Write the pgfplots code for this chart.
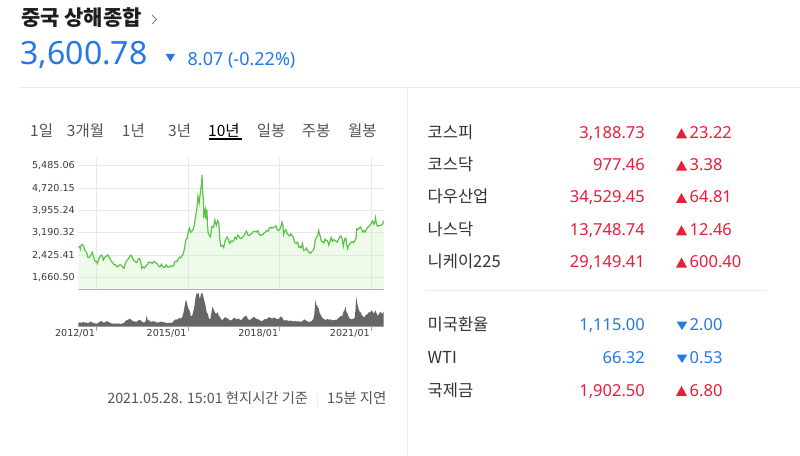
\documentclass[border=0pt]{standalone}
\usepackage{pgfplots}
\pgfplotsset{compat=1.18}
\usepackage{pgfplotstable}
\usepackage{fontspec}
\setmainfont{Noto Sans CJK KR}
\newfontfamily\nsans{Noto Sans}
\newfontfamily\dejavu{DejaVu Sans}
\newcommand{\fs}[1]{\fontsize{#1}{#1}\selectfont}
\definecolor{upred}{RGB}{232,30,58}
\definecolor{dnblue}{RGB}{36,121,229}
\definecolor{titlec}{RGB}{30,30,30}
\definecolor{lbl}{RGB}{51,51,51}
\definecolor{tabc}{RGB}{85,85,85}
\definecolor{sepc}{RGB}{236,236,236}
\definecolor{pline}{RGB}{90,196,70}
\definecolor{pfill}{RGB}{200,245,188}
\definecolor{volc}{RGB}{102,102,102}
\definecolor{gridc}{RGB}{232,232,232}
\definecolor{tickc}{RGB}{60,60,60}

\pgfplotstableread{
t v
2011.40 2709
2011.43 2728
2011.45 2705
2011.47 2642
2011.49 2762
2011.52 2795
2011.55 2780
2011.58 2701
2011.61 2608
2011.64 2568
2011.68 2500
2011.71 2359
2011.75 2345
2011.78 2388
2011.83 2468
2011.86 2528
2011.89 2400
2011.91 2333
2011.95 2224
2012.00 2199
2012.03 2150
2012.06 2292
2012.10 2357
2012.15 2439
2012.19 2390
2012.22 2263
2012.27 2359
2012.32 2396
2012.36 2440
2012.40 2373
2012.44 2306
2012.48 2225
2012.53 2170
2012.57 2103
2012.61 2110
2012.65 2047
2012.69 2028
2012.73 2086
2012.77 2100
2012.82 2069
2012.86 2015
2012.90 1980
2012.94 2150
2013.00 2269
2013.04 2300
2013.08 2385
2013.12 2432
2013.16 2366
2013.20 2270
2013.24 2237
2013.28 2190
2013.32 2178
2013.36 2300
2013.40 2320
2013.44 2211
2013.48 1980
2013.52 2030
2013.55 2000
2013.58 1994
2013.62 2085
2013.66 2098
2013.70 2190
2013.74 2175
2013.78 2190
2013.82 2141
2013.86 2200
2013.90 2220
2013.94 2160
2014.00 2116
2014.04 2040
2014.08 2033
2014.12 2120
2014.16 2056
2014.20 2000
2014.24 2033
2014.28 2100
2014.32 2026
2014.36 2020
2014.40 2039
2014.44 2070
2014.48 2048
2014.52 2070
2014.56 2200
2014.60 2220
2014.64 2217
2014.68 2310
2014.72 2364
2014.76 2340
2014.80 2420
2014.84 2480
2014.88 2683
2014.92 2950
2014.96 3000
2015.00 3235
2015.04 3350
2015.08 3210
2015.12 3250
2015.16 3310
2015.20 3450
2015.24 3748
2015.28 4000
2015.32 4442
2015.36 4220
2015.40 4600
2015.44 4900
2015.45 5166
2015.48 4500
2015.50 4277
2015.51 3700
2015.53 3900
2015.56 4000
2015.58 3664
2015.61 3990
2015.63 3500
2015.65 3206
2015.69 3100
2015.73 3053
2015.77 3400
2015.83 3383
2015.87 3630
2015.92 3445
2015.96 3600
2016.00 3539
2016.03 3000
2016.07 2738
2016.12 2760
2016.16 2688
2016.20 2900
2016.24 3004
2016.28 3050
2016.32 2938
2016.36 2830
2016.40 2917
2016.45 2890
2016.49 2930
2016.53 3050
2016.58 2979
2016.62 3110
2016.66 3085
2016.70 3000
2016.74 3005
2016.79 3060
2016.83 3100
2016.87 3200
2016.91 3250
2016.95 3120
2017.00 3104
2017.04 3150
2017.08 3159
2017.12 3230
2017.16 3242
2017.20 3240
2017.24 3223
2017.28 3270
2017.32 3155
2017.36 3100
2017.40 3117
2017.45 3140
2017.49 3192
2017.53 3220
2017.58 3273
2017.62 3250
2017.66 3361
2017.70 3380
2017.74 3349
2017.78 3380
2017.83 3393
2017.87 3430
2017.91 3317
2017.95 3270
2018.00 3307
2018.04 3430
2018.07 3558
2018.10 3460
2018.12 3130
2018.16 3259
2018.20 3300
2018.24 3169
2018.28 3130
2018.32 3082
2018.36 3163
2018.40 3095
2018.44 3050
2018.48 2880
2018.50 2847
2018.54 2830
2018.58 2876
2018.62 2700
2018.66 2725
2018.70 2680
2018.74 2821
2018.78 2600
2018.83 2603
2018.87 2670
2018.91 2588
2018.95 2530
2019.00 2494
2019.04 2550
2019.08 2585
2019.12 2660
2019.16 2941
2019.20 3050
2019.24 3091
2019.27 3270
2019.32 3078
2019.36 2900
2019.40 2899
2019.44 2850
2019.48 2979
2019.52 2930
2019.56 2933
2019.60 2774
2019.64 2886
2019.68 3030
2019.72 2905
2019.76 2960
2019.80 2929
2019.84 2910
2019.88 2872
2019.92 2970
2019.96 3050
2020.00 3085
2020.04 2977
2020.08 2740
2020.12 2980
2020.16 3010
2020.19 2780
2020.22 2650
2020.25 2750
2020.30 2830
2020.33 2860
2020.37 2890
2020.41 2852
2020.45 2920
2020.49 2985
2020.52 3330
2020.56 3310
2020.60 3360
2020.64 3396
2020.68 3300
2020.72 3218
2020.76 3270
2020.80 3225
2020.84 3320
2020.88 3392
2020.92 3400
2020.96 3473
2021.00 3530
2021.04 3600
2021.08 3483
2021.12 3600
2021.13 3696
2021.16 3509
2021.20 3420
2021.24 3441
2021.28 3450
2021.32 3447
2021.36 3490
2021.40 3600
}\price

\pgfplotstableread{
t v
2011.40 10
2011.45 12
2011.50 10
2011.55 13
2011.60 11
2011.65 12
2011.70 9
2011.75 11
2011.80 14
2011.85 12
2011.90 10
2011.95 9
2012.00 8
2012.05 10
2012.10 13
2012.15 16
2012.20 12
2012.25 11
2012.30 14
2012.35 15
2012.40 12
2012.45 10
2012.50 9
2012.55 8
2012.60 9
2012.65 8
2012.70 9
2012.75 8
2012.80 8
2012.85 9
2012.90 10
2012.95 16
2013.00 18
2013.05 20
2013.10 22
2013.15 17
2013.20 15
2013.25 14
2013.30 13
2013.35 16
2013.40 19
2013.45 17
2013.50 13
2013.55 11
2013.60 14
2013.64 30
2013.68 16
2013.72 18
2013.76 14
2013.80 13
2013.85 15
2013.90 14
2013.95 12
2014.00 11
2014.05 12
2014.10 14
2014.15 13
2014.20 12
2014.25 11
2014.30 10
2014.35 10
2014.40 11
2014.45 10
2014.50 13
2014.55 18
2014.60 20
2014.65 19
2014.70 24
2014.75 22
2014.80 25
2014.85 40
2014.90 65
2014.93 73
2014.97 60
2015.00 50
2015.04 45
2015.08 30
2015.12 28
2015.16 40
2015.20 55
2015.24 80
2015.28 92
2015.30 88
2015.34 92
2015.38 75
2015.42 90
2015.46 92
2015.50 80
2015.53 70
2015.56 60
2015.60 40
2015.64 35
2015.68 22
2015.72 20
2015.76 38
2015.80 55
2015.84 45
2015.88 38
2015.92 35
2015.96 40
2016.00 30
2016.04 26
2016.08 20
2016.12 18
2016.16 22
2016.20 26
2016.25 24
2016.30 22
2016.35 18
2016.40 17
2016.45 20
2016.50 24
2016.55 22
2016.60 20
2016.65 23
2016.70 18
2016.75 19
2016.80 24
2016.85 28
2016.90 30
2016.95 22
2017.00 18
2017.05 20
2017.10 24
2017.15 27
2017.20 23
2017.25 21
2017.30 20
2017.35 17
2017.40 15
2017.45 17
2017.50 21
2017.55 20
2017.60 23
2017.65 26
2017.70 24
2017.75 22
2017.80 25
2017.85 23
2017.90 21
2017.95 20
2018.00 25
2018.04 28
2018.08 24
2018.12 18
2018.16 16
2018.20 18
2018.25 17
2018.30 15
2018.35 17
2018.40 15
2018.45 14
2018.50 16
2018.55 14
2018.60 15
2018.65 13
2018.70 14
2018.75 16
2018.80 20
2018.85 17
2018.90 15
2018.95 13
2019.00 14
2019.05 16
2019.10 22
2019.13 35
2019.16 73
2019.19 60
2019.23 55
2019.27 50
2019.30 38
2019.34 32
2019.38 25
2019.42 22
2019.46 20
2019.50 18
2019.55 21
2019.60 19
2019.65 20
2019.70 18
2019.75 17
2019.80 19
2019.85 18
2019.90 22
2019.95 26
2020.00 30
2020.04 28
2020.08 40
2020.12 45
2020.15 55
2020.18 40
2020.22 35
2020.26 25
2020.30 22
2020.35 20
2020.40 21
2020.45 24
2020.48 50
2020.50 82
2020.53 65
2020.56 55
2020.60 42
2020.64 40
2020.68 32
2020.72 28
2020.76 25
2020.80 30
2020.84 33
2020.88 35
2020.92 40
2020.96 38
2021.00 45
2021.04 40
2021.08 35
2021.12 45
2021.16 38
2021.20 30
2021.24 33
2021.28 40
2021.32 38
2021.36 35
2021.40 42
}\vol

\newcommand{\uptri}[2]{\fill[upred] (#1-5.5,455-#2-5) -- (#1+5.5,455-#2-5) -- (#1,455-#2+5) -- cycle;}
\newcommand{\dntri}[2]{\fill[dnblue] (#1-5.3,455-#2+4.2) -- (#1+5.3,455-#2+4.2) -- (#1,455-#2-4.2) -- cycle;}

\begin{document}
\begin{tikzpicture}[x=1pt,y=1pt]
\path[use as bounding box] (0,0) rectangle (800,455);
\fill[white] (0,0) rectangle (800,455);

% header
\node[anchor=base west, inner sep=0, text=titlec] at (21,455-25.5) {\fs{21}\bfseries 중국 상해종합};
\draw[gray, line width=0.9pt] (152,455-15) -- (156.5,455-19.5) -- (152,455-24);
\node[anchor=base west, inner sep=0, text=dnblue] at (20.4,455-65) {\nsans\fs{32}3,600.78};
\fill[dnblue] (165.7,455-54) -- (175,455-54) -- (170.35,455-61.7) -- cycle;
\node[anchor=base west, inner sep=0, text=dnblue] at (187.5,455-65.5) {\nsans\fs{18}8.07 (-0.22\%)};

% separators
\draw[sepc, line width=1pt] (18,455-87.5) -- (800,455-87.5);
\draw[sepc, line width=1pt] (407.5,455-87.5) -- (407.5,0);
\draw[sepc, line width=1pt] (425,455-291) -- (766,455-291);

% tabs
\foreach \x/\t in {30/1일, 66.7/3개월, 121.7/1년, 168/3년, 256.7/일봉, 301.7/주봉, 348/월봉}
  \node[anchor=base west, inner sep=0, text=tabc] at (\x,455-136.7) {\fs{15.5}\t};
\node[anchor=base west, inner sep=0, text=black] at (208,455-136.7) {\fs{15.5}10년};
\draw[black, line width=1.2pt] (208.5,455-139) -- (241.7,455-139);

% right panel
\foreach \y/\n/\v/\c in {138.3/코스피/{3,188.73}/23.22, 170.6/코스닥/977.46/3.38, 203/다우산업/{34,529.45}/64.81, 235.3/나스닥/{13,748.74}/12.46, 267.6/니케이225/{29,149.41}/600.40}{
  \node[anchor=base west, inner sep=0, text=lbl] at (427.5,455-\y) {\fs{16.5}\n};
  \node[anchor=base east, inner sep=0, text=upred] at (645,455-\y) {\nsans\fs{16.5}\v};
  \node[anchor=base west, inner sep=0, text=upred] at (689.5,455-\y) {\nsans\fs{16.5}\c};
}
\uptri{681.5}{133.3}
\uptri{681.5}{165.6}
\uptri{681.5}{198}
\uptri{681.5}{230.3}
\uptri{681.5}{262.6}

\node[anchor=base west, inner sep=0, text=lbl] at (427.5,455-331) {\fs{16.5}미국환율};
\node[anchor=base east, inner sep=0, text=dnblue] at (645,455-331) {\nsans\fs{16.5}1,115.00};
\node[anchor=base west, inner sep=0, text=dnblue] at (689.5,455-331) {\nsans\fs{16.5}2.00};
\dntri{682}{325.8}
\node[anchor=base west, inner sep=0, text=lbl] at (427.5,455-364) {\fs{16.5}WTI};
\node[anchor=base east, inner sep=0, text=dnblue] at (645,455-364) {\nsans\fs{16.5}66.32};
\node[anchor=base west, inner sep=0, text=dnblue] at (689.5,455-364) {\nsans\fs{16.5}0.53};
\dntri{682}{358.8}
\node[anchor=base west, inner sep=0, text=lbl] at (427.5,455-396) {\fs{16.5}국제금};
\node[anchor=base east, inner sep=0, text=upred] at (645,455-396) {\nsans\fs{16.5}1,902.50};
\node[anchor=base west, inner sep=0, text=upred] at (689.5,455-396) {\nsans\fs{16.5}6.80};
\uptri{681.5}{391}

% footer
\node[anchor=base east, inner sep=0, text=tabc] at (308.3,455-404) {\fs{14.3}2021.05.28. 15:01 현지시간 기준};
\draw[sepc, line width=1pt] (317.7,455-395) -- (317.7,455-407);
\node[anchor=base west, inner sep=0, text=tabc] at (327,455-404) {\fs{14.5}15분 지연};

% price chart
\begin{axis}[
  at={(78.3pt,165.7pt)}, anchor=south west,
  scale only axis, width=305.7pt, height=131.3pt,
  xmin=2011.40, xmax=2021.41, ymin=1264, ymax=5748,
  axis line style={draw=none},
  xtick={2012,2015,2018,2021}, xticklabels={},
  ytick={1660.50,2425.41,3190.32,3955.24,4720.15,5485.06},
  yticklabels={{1,660.50},{2,425.41},{3,190.32},{3,955.24},{4,720.15},{5,485.06}},
  grid=major, major grid style={draw=gridc, line width=0.9pt},
  major tick length=0pt,
  yticklabel style={font=\dejavu\fs{9.6}, text=tickc, inner sep=0pt, xshift=-3.3pt},
]
\addplot[draw=none, fill=pfill, fill opacity=0.3] table {\price} \closedcycle;
\addplot[draw=pline, line width=1.2pt] table {\price};
\draw[gray!60, line width=0.9pt] (rel axis cs:0,0) -- (rel axis cs:1,0);
\end{axis}

% volume chart
\begin{axis}[
  at={(78.3pt,128.3pt)}, anchor=south west,
  scale only axis, width=305.7pt, height=36.7pt,
  xmin=2011.40, xmax=2021.41, ymin=0, ymax=100,
  axis line style={draw=none},
  xtick={2012,2015,2018,2021}, xticklabels={2012/01,2015/01,2018/01,2021/01},
  ytick=\empty, xtick pos=left, tick align=outside,
  major tick length=4pt, tick style={draw=gray!70, line width=0.8pt},
  xticklabel style={font=\dejavu\fs{9.6}, text=tickc, inner sep=0pt, anchor=north east, xshift=-1.5pt, yshift=1.5pt},
]
\addplot[draw=none, fill=volc] table {\vol} \closedcycle;
\end{axis}
\end{tikzpicture}
\end{document}
